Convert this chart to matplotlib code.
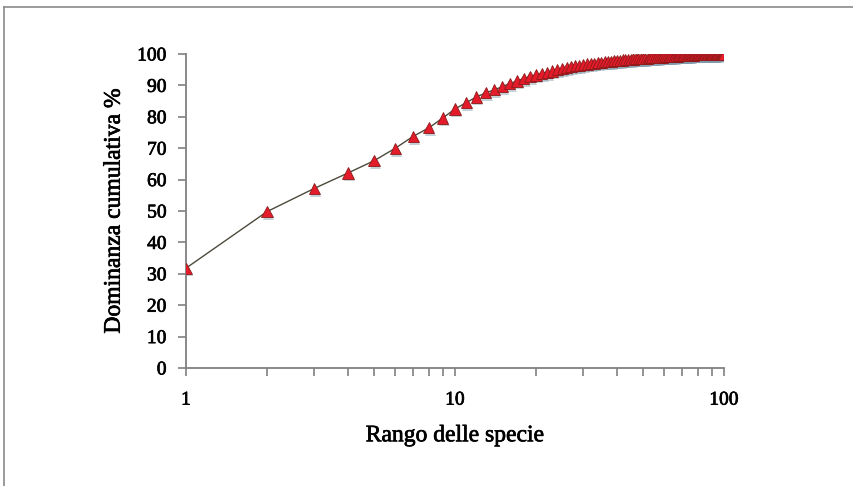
import numpy as np
import matplotlib
matplotlib.use("Agg")
import matplotlib.pyplot as plt
import matplotlib.patheffects as pe
from matplotlib.lines import Line2D
from matplotlib.ticker import LogLocator, FixedLocator, NullFormatter

# species rank (1..100) and cumulative dominance %
rank = list(range(1, 101))
dominance = [
    31.8, 49.8, 57.2, 62.1, 66.0, 70.0, 73.8, 76.5, 79.6, 82.5,
    84.5, 86.3, 87.6, 88.6, 89.6, 90.6, 91.4, 92.2, 92.8, 93.3,
    93.8, 94.2, 94.6, 95.0, 95.3, 95.6, 95.9, 96.2, 96.4, 96.6,
    96.8, 97.0, 97.1, 97.3, 97.4, 97.5, 97.6, 97.7, 97.8, 97.9,
    98.0, 98.1, 98.2, 98.25, 98.3, 98.4, 98.45, 98.5, 98.55, 98.6,
    98.65, 98.7, 98.75, 98.8, 98.85, 98.9, 98.95, 99.0, 99.05, 99.1,
    99.15, 99.2, 99.22, 99.25, 99.3, 99.33, 99.36, 99.4, 99.45, 99.5,
    99.52, 99.55, 99.58, 99.6, 99.62, 99.65, 99.67, 99.7, 99.72, 99.74,
    99.76, 99.78, 99.8, 99.82, 99.84, 99.85, 99.87, 99.88, 99.89, 99.9,
    99.91, 99.92, 99.93, 99.94, 99.95, 99.96, 99.97, 99.98, 99.99, 100.0,
]
yticks = list(range(0, 101, 10))
xlabel = "Rango delle specie"
ylabel = "Dominanza cumulativa %"

plt.rcParams['font.family'] = ['Liberation Serif', 'DejaVu Serif']

fig = plt.figure(figsize=(8.54, 4.86), dpi=100)
ax = fig.add_axes([0.2178, 0.2428, 0.6300, 0.6461])

# outer frame (only top and left edges visible in the crop)
fig.add_artist(Line2D([0.005, 0.005], [0, 0.986], transform=fig.transFigure, color='#8a8a8a', lw=1.2))
fig.add_artist(Line2D([0.005, 1], [0.986, 0.986], transform=fig.transFigure, color='#8a8a8a', lw=1.2))

ax.plot(rank, dominance, color='#4d4a3c', lw=1.0, zorder=2)
ax.plot(rank, dominance, linestyle='none', marker='^', markersize=8,
        markerfacecolor='#e31b2a', markeredgecolor='#8c1a1a', markeredgewidth=0.6, zorder=3,
        path_effects=[pe.SimplePatchShadow(offset=(1, -2), shadow_rgbFace='#7f98a8', alpha=0.45),
                      pe.Normal()])

ax.set_xscale('log')
ax.set_xlim(1, 100)
ax.set_ylim(0, 100)
ax.set_xticks([1, 10, 100])
ax.set_xticklabels(['1', '10', '100'])
ax.xaxis.set_minor_locator(LogLocator(base=10, subs=np.arange(2, 10)))
ax.xaxis.set_minor_formatter(NullFormatter())
ax.yaxis.set_major_locator(FixedLocator(yticks))

for s in ['top', 'right']:
    ax.spines[s].set_visible(False)
for s in ['left', 'bottom']:
    ax.spines[s].set_color('#808080')
    ax.spines[s].set_linewidth(1.3)

ax.tick_params(axis='both', which='both', direction='out', color='#808080', width=1.2,
               labelsize=14, labelcolor='black')
ax.tick_params(axis='both', which='major', length=6)
ax.tick_params(axis='x', which='minor', length=6)
ax.tick_params(axis='x', pad=11)
ax.tick_params(axis='y', pad=8)

# slightly heavier text, like the original rendering
heavy = [pe.withStroke(linewidth=0.5, foreground='black')]
for lab in ax.get_xticklabels() + ax.get_yticklabels():
    lab.set_path_effects(heavy)

ax.set_xlabel(xlabel, fontsize=17, labelpad=12, path_effects=heavy)
ax.set_ylabel(ylabel, fontsize=17, labelpad=9, path_effects=heavy)

fig.savefig('out.png', dpi=100, facecolor='white')
